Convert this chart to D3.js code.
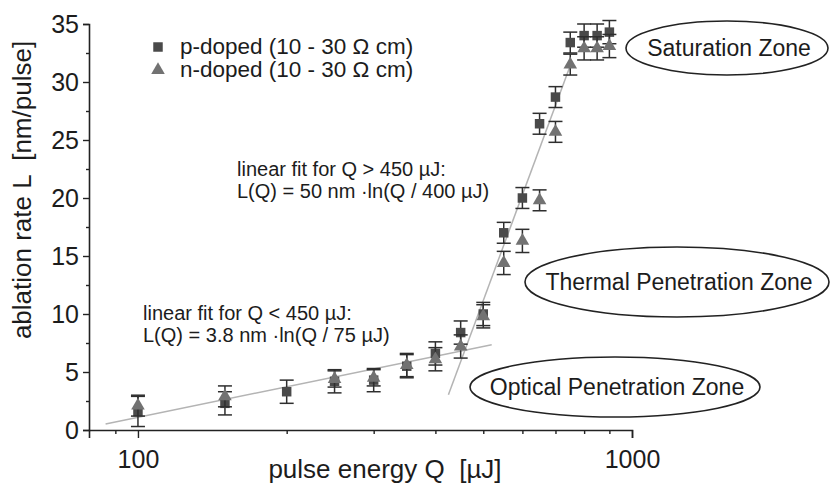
<!DOCTYPE html>
<html>
<head>
<meta charset="utf-8">
<script src="https://cdn.jsdelivr.net/npm/d3@7"></script>
<style>
  body { margin: 0; background: #fff; }
  svg text { font-family: "Liberation Sans", Arial, sans-serif; fill: #1c1c1c; white-space: pre; }
</style>
</head>
<body>
<div id="chart"></div>
<script>
// data
const pEnergies = [100, 150, 200, 250, 300, 350, 400, 450, 500, 550, 600, 650, 700, 750, 800, 850, 900];
const pRates    = [1.6, 2.3, 3.3, 4.2, 4.3, 5.5, 6.6, 8.4, 10.0, 17.0, 20.0, 26.4, 28.7, 33.4, 34.0, 34.0, 34.3];
const pErrors   = [1.3, 1.0, 1.0, 1.0, 1.0, 1.0, 1.0, 1.0, 1.0, 0.9, 0.9, 0.9, 0.9, 0.9, 1.0, 1.0, 1.0];

const nEnergies = [100, 150, 250, 300, 350, 400, 450, 500, 550, 600, 650, 700, 750, 800, 850, 900];
const nRates    = [2.1, 2.9, 4.4, 4.5, 5.6, 6.1, 7.2, 9.8, 14.4, 16.3, 19.8, 25.7, 31.5, 32.9, 32.9, 33.1];
const nErrors   = [0.9, 0.9, 0.7, 0.7, 1.0, 1.0, 1.0, 1.0, 1.0, 1.0, 0.9, 0.9, 0.9, 1.0, 1.0, 1.0];

const xMajorTicks = [100, 1000];
const xMinorTicks = [90, 200, 300, 400, 500, 600, 700, 800, 900];
const yMajorTicks = [0, 5, 10, 15, 20, 25, 30, 35];
const yMinorTicks = [2.5, 7.5, 12.5, 17.5, 22.5, 27.5, 32.5];

// fits: L(Q) = a * ln(Q / q0), drawn between qFrom and qTo
const fitNames = ["low", "high"];
const fitSlopes = [3.8, 50];
const fitQ0 = [75, 400];
const fitFrom = [86, 425];
const fitTo = [520, 750];

const width = 830, height = 483;
const svg = d3.select("#chart").append("svg")
  .attr("width", width)
  .attr("height", height);

const x = d3.scaleLog().domain([79.6, 1000]).range([89, 632]);
const y = d3.scaleLinear().domain([0, 35]).range([430, 24]);

// axes
const xAxis = svg.append("g").attr("transform", `translate(0,${y(0)})`);
xAxis.call(d3.axisBottom(x).tickValues(xMajorTicks).tickSize(8).tickPadding(12).tickFormat(d3.format("d")));
const xMinor = svg.append("g").attr("transform", `translate(0,${y(0)})`)
  .call(d3.axisBottom(x).tickValues(xMinorTicks).tickSize(4).tickFormat(""));
xMinor.select(".domain").remove();

const yAxis = svg.append("g").attr("transform", `translate(${x.range()[0]},0)`);
yAxis.call(d3.axisLeft(y).tickValues(yMajorTicks).tickSize(6).tickPadding(4));
const yMinor = svg.append("g").attr("transform", `translate(${x.range()[0]},0)`)
  .call(d3.axisLeft(y).tickValues(yMinorTicks).tickSize(3).tickFormat(""));
yMinor.select(".domain").remove();

svg.selectAll(".domain").attr("stroke", "#222").attr("stroke-width", 1.6);
svg.selectAll(".tick line").attr("stroke", "#222").attr("stroke-width", 1.4);
svg.selectAll(".tick text").attr("font-size", 25).attr("fill", "#1c1c1c")
  .style("font-family", "'Liberation Sans', Arial, sans-serif");
xAxis.selectAll(".tick text").attr("dy", "0.71em");

// axis titles
svg.append("text")
  .attr("x", 385).attr("y", 478)
  .attr("text-anchor", "middle")
  .attr("font-size", 26)
  .text("pulse energy Q  [µJ]");

svg.append("text")
  .attr("transform", "translate(31,190) rotate(-90)")
  .attr("text-anchor", "middle")
  .attr("font-size", 26)
  .text("ablation rate L  [nm/pulse]");

// fit lines (straight on a log x axis)
const fitLine = d3.line().x(d => x(d[0])).y(d => y(d[1]));
fitNames.forEach((name, i) => {
  const pts = [fitFrom[i], fitTo[i]].map(q => [q, fitSlopes[i] * Math.log(q / fitQ0[i])]);
  svg.append("path")
    .attr("class", "fit-" + name)
    .attr("d", fitLine(pts))
    .attr("fill", "none")
    .attr("stroke", "#b4b4b4")
    .attr("stroke-width", 1.5);
});

// series
const squareSym = d3.symbol().type(d3.symbolSquare).size(90);
const triangleSym = d3.symbol().type(d3.symbolTriangle).size(80);

function drawSeries(qs, vals, errs, sym, fill, cls) {
  const data = qs.map((q, i) => ({ q, v: vals[i], e: errs[i] }));
  const g = svg.append("g").attr("class", cls);
  const eb = g.selectAll("g.err").data(data).enter().append("g").attr("class", "err")
    .attr("stroke", "#2e2e2e").attr("stroke-width", 1.5);
  eb.append("line")
    .attr("x1", d => x(d.q)).attr("x2", d => x(d.q))
    .attr("y1", d => y(d.v - d.e)).attr("y2", d => y(d.v + d.e));
  eb.append("line")
    .attr("x1", d => x(d.q) - 7).attr("x2", d => x(d.q) + 7)
    .attr("y1", d => y(d.v + d.e)).attr("y2", d => y(d.v + d.e));
  eb.append("line")
    .attr("x1", d => x(d.q) - 7).attr("x2", d => x(d.q) + 7)
    .attr("y1", d => y(d.v - d.e)).attr("y2", d => y(d.v - d.e));
  g.selectAll("path.pt").data(data).enter().append("path").attr("class", "pt")
    .attr("d", sym)
    .attr("transform", d => `translate(${x(d.q)},${y(d.v)})`)
    .attr("fill", fill);
}

drawSeries(pEnergies, pRates, pErrors, squareSym, "#4a4a4a", "p-doped");
drawSeries(nEnergies, nRates, nErrors, triangleSym, "#727272", "n-doped");

// legend
const legendLabels = ["p-doped (10 - 30 \u03A9 cm)", "n-doped (10 - 30 \u03A9 cm)"];
const legendSyms = [squareSym, triangleSym];
const legendFills = ["#4a4a4a", "#727272"];
legendLabels.forEach((label, i) => {
  const ly = 47 + i * 23;
  svg.append("path")
    .attr("d", legendSyms[i]())
    .attr("transform", `translate(158,${ly})`)
    .attr("fill", legendFills[i]);
  svg.append("text")
    .attr("x", 180).attr("y", ly + 7)
    .attr("font-size", 22.5)
    .text(label);
});

// fit annotations
const notes = [
  { x: 237, y: 176, lines: ["linear fit for Q > 450 µJ:", "L(Q) = 50 nm \u00B7ln(Q / 400 µJ)"] },
  { x: 143, y: 320, lines: ["linear fit for Q < 450 µJ:", "L(Q) = 3.8 nm \u00B7ln(Q / 75 µJ)"] }
];
notes.forEach(n => {
  n.lines.forEach((t, i) => {
    svg.append("text")
      .attr("x", n.x).attr("y", n.y + i * 22)
      .attr("font-size", 20)
      .text(t);
  });
});

// zone ellipses
const zones = [
  { label: "Saturation Zone", cx: 727, cy: 48, rx: 101, ry: 27 },
  { label: "Thermal Penetration Zone", cx: 677, cy: 282, rx: 152, ry: 35 },
  { label: "Optical Penetration Zone", cx: 615, cy: 387, rx: 145, ry: 30 }
];
zones.forEach(z => {
  svg.append("ellipse")
    .attr("cx", z.cx).attr("cy", z.cy)
    .attr("rx", z.rx).attr("ry", z.ry)
    .attr("fill", "none")
    .attr("stroke", "#222")
    .attr("stroke-width", 1.6);
  svg.append("text")
    .attr("x", z.cx + 2).attr("y", z.cy + 8)
    .attr("text-anchor", "middle")
    .attr("font-size", 23)
    .text(z.label);
});
</script>
</body>
</html>
